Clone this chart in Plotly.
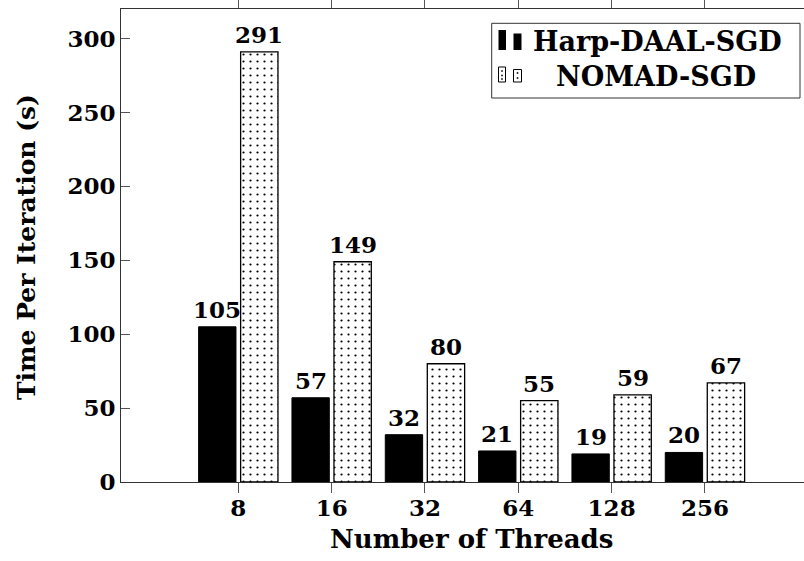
import plotly.graph_objects as go

threads = ["8", "16", "32", "64", "128", "256"]
harp = [105, 57, 32, 21, 19, 20]
nomad = [291, 149, 80, 55, 59, 67]
y_ticks = [0, 50, 100, 150, 200, 250, 300]

W, H = 804, 561
ML, MR, MT, MB = 121, 0, 9, 79
PW, PH = W - ML - MR, H - MT - MB

FONT = "DejaVu Serif"
FS_NUM = 23
FS_XT = 26
FS_YT = 25
FS_LEG = 27

BAR_W = 0.4
OFF_H = -0.425
OFF_N = 0.025

xs = list(range(len(threads)))

fig = go.Figure()
fig.add_trace(go.Bar(
    x=xs, y=harp, width=BAR_W, offset=OFF_H, name="Harp-DAAL-SGD",
    marker=dict(color="black", line=dict(color="black", width=1)),
    showlegend=False,
))
fig.add_trace(go.Bar(
    x=xs, y=nomad, width=BAR_W, offset=OFF_N, name="NOMAD-SGD",
    marker=dict(color="white", line=dict(color="black", width=1.3),
                pattern=dict(shape=".", size=7, solidity=0.08,
                             fgcolor="black", bgcolor="white", fillmode="replace")),
    showlegend=False,
))

def font(sz):
    return dict(family=FONT, size=sz, color="black", weight="bold")

ann = []
for i, v in enumerate(harp):
    ann.append(dict(x=i + OFF_H + BAR_W / 2, y=v, xref="x", yref="y", text=str(v),
                    showarrow=False, yanchor="bottom", yshift=2, font=font(FS_NUM)))
for i, v in enumerate(nomad):
    ann.append(dict(x=i + OFF_N + BAR_W / 2, y=v, xref="x", yref="y", text=str(v),
                    showarrow=False, yanchor="bottom", yshift=2, font=font(FS_NUM)))

def px(x):
    return (x - ML) / PW

def py(y):
    return (H - MB - y) / PH

# axis titles
ann.append(dict(x=px(471), y=py(539), xref="paper", yref="paper", text="Number of Threads",
                showarrow=False, xanchor="center", yanchor="middle", font=font(FS_XT)))
ann.append(dict(x=px(27), y=py(247), xref="paper", yref="paper", text="Time Per Iteration (s)",
                showarrow=False, xanchor="center", yanchor="middle", textangle=-90,
                font=font(FS_YT)))

# legend
shapes = [dict(type="rect", xref="paper", yref="paper",
               x0=px(491.7), x1=px(800), y0=py(98), y1=py(23.3),
               line=dict(color="#333", width=1), fillcolor="white", layer="above")]
shapes += [
    dict(type="rect", xref="paper", yref="paper", x0=px(498.5), x1=px(506), y0=py(50), y1=py(30),
         line=dict(width=0), fillcolor="black", layer="above"),
    dict(type="rect", xref="paper", yref="paper", x0=px(513.5), x1=px(521.5), y0=py(50), y1=py(33.5),
         line=dict(width=0), fillcolor="black", layer="above"),
    dict(type="rect", xref="paper", yref="paper", x0=px(498.5), x1=px(505.5), y0=py(82), y1=py(67),
         line=dict(color="black", width=1), fillcolor="white", layer="above"),
    dict(type="rect", xref="paper", yref="paper", x0=px(513.5), x1=px(521.5), y0=py(82), y1=py(69.5),
         line=dict(color="black", width=1), fillcolor="white", layer="above"),
]
for (cx, cy) in [(502, 71), (502, 75.5), (502, 79), (517.5, 73), (517.5, 78)]:
    shapes.append(dict(type="rect", xref="paper", yref="paper",
                       x0=px(cx - 0.8), x1=px(cx + 0.8), y0=py(cy + 0.8), y1=py(cy - 0.8),
                       line=dict(width=0), fillcolor="black", layer="above"))

ann.append(dict(x=px(657), y=py(41), xref="paper", yref="paper", text="Harp-DAAL-SGD",
                showarrow=False, xanchor="center", yanchor="middle", font=font(FS_LEG)))
ann.append(dict(x=px(656), y=py(76), xref="paper", yref="paper", text="NOMAD-SGD",
                showarrow=False, xanchor="center", yanchor="middle", font=font(FS_LEG)))

fig.update_layout(
    width=W, height=H,
    margin=dict(l=ML, r=MR, t=MT, b=MB, pad=0, autoexpand=False),
    paper_bgcolor="white", plot_bgcolor="white",
    shapes=shapes, annotations=ann,
    showlegend=False,
    xaxis=dict(range=[(ML - 238.3) / 93.33, (W - MR - 238.3) / 93.33],
               tickvals=xs, ticktext=threads, ticks="outside", ticklen=10,
               tickcolor="#555", showline=True, linecolor="#333", linewidth=1,
               mirror="ticks", showgrid=False, zeroline=False, automargin=False,
               ticklabelstandoff=-5, tickfont=font(FS_NUM)),
    yaxis=dict(range=[0, 320], tickvals=y_ticks, ticks="inside", ticklen=9,
               tickcolor="#555", showline=True, linecolor="#333", linewidth=1,
               showgrid=False, zeroline=False, ticklabelstandoff=0, automargin=False,
               tickfont=font(FS_NUM)),
)

fig.write_html("out.html", config={"displayModeBar": False},
               post_script="document.body.style.margin='0';document.body.style.overflow='hidden';")
